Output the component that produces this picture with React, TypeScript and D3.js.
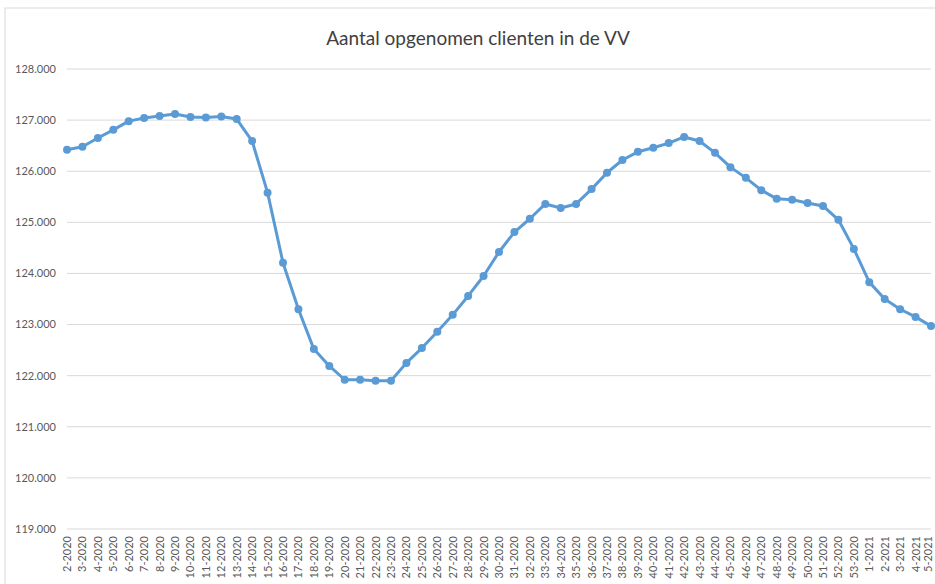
import React from "react";
import * as d3 from "d3";

const categories: string[] = [
  "2-2020","3-2020","4-2020","5-2020","6-2020","7-2020","8-2020","9-2020","10-2020","11-2020",
  "12-2020","13-2020","14-2020","15-2020","16-2020","17-2020","18-2020","19-2020","20-2020","21-2020",
  "22-2020","23-2020","24-2020","25-2020","26-2020","27-2020","28-2020","29-2020","30-2020","31-2020",
  "32-2020","33-2020","34-2020","35-2020","36-2020","37-2020","38-2020","39-2020","40-2020","41-2020",
  "42-2020","43-2020","44-2020","45-2020","46-2020","47-2020","48-2020","49-2020","50-2020","51-2020",
  "52-2020","53-2020","1-2021","2-2021","3-2021","4-2021","5-2021"
];

const values: number[] = [
  126420, 126480, 126650, 126810, 126980, 127040, 127080, 127120, 127060, 127050,
  127070, 127020, 126590, 125580, 124210, 123300, 122520, 122190, 121920, 121920,
  121900, 121900, 122250, 122540, 122860, 123190, 123560, 123950, 124420, 124810,
  125070, 125360, 125280, 125360, 125650, 125970, 126220, 126380, 126460, 126550,
  126670, 126590, 126360, 126080, 125870, 125630, 125460, 125440, 125380, 125320,
  125050, 124480, 123830, 123500, 123300, 123150, 122970
];

const yTicks: number[] = [119000, 120000, 121000, 122000, 123000, 124000, 125000, 126000, 127000, 128000];

const title = "Aantal opgenomen clienten in de VV";

const W = 935;
const H = 584;

export default function App() {
  const x = d3.scalePoint<string>().domain(categories).range([67, 931]);
  const y = d3.scaleLinear().domain([119000, 128000]).range([529, 69]);
  const fmt = (v: number) => d3.format(",")(v).replace(/,/g, ".");
  const line = d3
    .line<number>()
    .x((_, i) => x(categories[i]) as number)
    .y((d) => y(d));
  const font = "Lato, 'Open Sans', sans-serif";
  return (
    <svg
      width={W}
      height={H}
      style={{ position: "absolute", left: 0, top: 0, background: "#fff" }}
      fontFamily={font}
    >
      <rect x={5} y={8} width={W + 10} height={H + 10} fill="#fff" stroke="#d9d9d9" strokeWidth={1} />
      <text x={478} y={45} textAnchor="middle" fontSize={19} fill="#404040">
        {title}
      </text>
      {yTicks.map((t) => (
        <g key={t}>
          <line x1={67} x2={931} y1={y(t)} y2={y(t)} stroke="#d9d9d9" strokeWidth={1} />
          <text x={56} y={y(t)} dy="0.35em" textAnchor="end" fontSize={11} fill="#595959">
            {fmt(t)}
          </text>
        </g>
      ))}
      {categories.map((c) => (
        <text
          key={c}
          transform={`translate(${Math.min((x(c) as number) + 4, 932)},536) rotate(-90)`}
          textAnchor="end"
          fontSize={11}
          fill="#595959"
        >
          {c}
        </text>
      ))}
      <path d={line(values) || ""} fill="none" stroke="#5b9bd5" strokeWidth={3} strokeLinejoin="round" />
      {values.map((v, i) => (
        <circle key={i} cx={x(categories[i]) as number} cy={y(v)} r={4} fill="#5b9bd5" />
      ))}
    </svg>
  );
}
